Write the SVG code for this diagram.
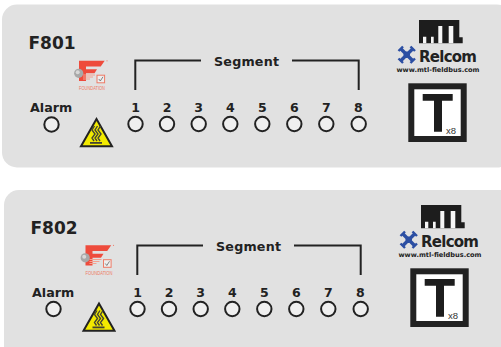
<svg xmlns="http://www.w3.org/2000/svg" xmlns:xlink="http://www.w3.org/1999/xlink" width="501" height="347" viewBox="0 0 501 347">
<style>
text{font-family:"DejaVu Sans","Liberation Sans",sans-serif;font-weight:bold;fill:#222}
.panel{fill:#e1e1e1}
.led{fill:#efefef;stroke:#222;stroke-width:2}
.n{font-size:12.5px;text-anchor:middle}
.lab{font-size:12.7px}
.id{font-size:17px}
.br{fill:none;stroke:#222;stroke-width:2}
.rel{font-size:15px}
.www{font-size:6.6px}
.x8{font-family:"Liberation Sans",sans-serif;font-weight:normal;font-size:9.5px;fill:#333}
.fnd{font-family:"Liberation Sans",sans-serif;font-weight:normal;font-size:4.6px;fill:#ee7a66}
</style>
<defs>
<g id="ff">
<path d="M79 60.7H104.7L100.7 66.5H86V69.3H97L94.5 73.3H86V81H79Z" fill="#ee4b3c"/>
<path d="M83 75H95M83 77H93M83 79H90" stroke="#f4a090" fill="none"/>
<circle cx="78.7" cy="73.3" r="4.6" fill="#a8a8a8"/>
<circle cx="77.7" cy="72.3" r="2" fill="#d8d8d8"/>
<rect x="97" y="75.2" width="7.6" height="7.6" fill="#eee" stroke="#ee7a66"/>
<path d="M98.8 79L100.3 81L103 76.8" fill="none" stroke="#666" stroke-width=".8"/>
<circle cx="107" cy="60.8" r=".6" fill="#ee7a66"/>
</g>
<g id="warn">
<path d="M96.5 119L81 146.3H112Z" fill="#f2ea00" stroke="#222" stroke-width="2"/>
<path d="M94.5 126L92 130L95 134L92 138L94 141M97.5 126L95 130L98 134L95 138L97 141M100.5 126L98 130L101 134L98 138L100 141" fill="none" stroke="#443" stroke-width="1.4"/>
<rect x="90" y="142" width="12" height="1.8" fill="#443"/>
</g>
<g id="brand">
<path d="M419 20H459.3V37.3H462.7V43.3H419Z" fill="#1d1d1d"/>
<path d="M423 36.7H426.3V43.3H423ZM431 36.7H433.7V43.3H431ZM438.3 26H442.3V43.3H438.3ZM448.7 26H453.3V43.3H448.7Z" fill="#f6f6f6"/>
<g stroke="#2c4fa3" fill="none">
<path d="M400.5 48.5L413 61M413 48.5L400.5 61" stroke-width="3.4"/>
<path d="M398.5 51L403 46.5M410.5 46.5L415 51M398.5 58.5L403 63M410.5 63L415 58.5" stroke-width="2.4"/>
<path d="M403.5 54.7H410M406.7 51.5V58" stroke-width="2"/>
</g>
<text class="rel" x="419" y="62" textLength="58">Relcom</text>
<text class="www" x="396.5" y="71.7" textLength="83" lengthAdjust="spacingAndGlyphs">www.mtl-fieldbus.com</text>
<rect x="411.3" y="86.3" width="52.4" height="52.7" fill="#fff" stroke="#222" stroke-width="6"/>
<path d="M422.7 94H452.7V100.7H442V131.7H434V100.7H422.7Z" fill="#1d1d1d"/>
<text class="x8" x="446" y="133.5">x8</text>
</g>
</defs>
<g id="panel-f801">
<rect class="panel" x="2" y="4.5" width="510" height="163" rx="15"/>
<text class="id" x="28.5" y="49">F801</text>
<use href="#ff" xlink:href="#ff"/>
<text class="fnd" x="79" y="90.3" textLength="26" lengthAdjust="spacingAndGlyphs">FOUNDATION</text>
<text class="lab" x="30" y="112">Alarm</text>
<circle class="led" cx="51.5" cy="124.5" r="7.2"/>
<use href="#warn" xlink:href="#warn"/>
<g id="bracket-f801"><path class="br" d="M135.3 90V60.5H201M292 60.5H358.7V90"/></g>
<text class="lab" x="214" y="66" textLength="65">Segment</text>
<g id="leds-f801">
<circle class="led" cx="135.5" cy="124" r="7.2"/><circle class="led" cx="167" cy="124" r="7.2"/><circle class="led" cx="198.7" cy="124" r="7.2"/><circle class="led" cx="230.3" cy="124" r="7.2"/><circle class="led" cx="262.3" cy="124" r="7.2"/><circle class="led" cx="294.3" cy="124" r="7.2"/><circle class="led" cx="326.3" cy="124" r="7.2"/><circle class="led" cx="358.7" cy="124" r="7.2"/>
</g>
<g id="nums-f801">
<text class="n" x="135.5" y="112">1</text><text class="n" x="167" y="112">2</text><text class="n" x="198.7" y="112">3</text><text class="n" x="230.3" y="112">4</text><text class="n" x="262.3" y="112">5</text><text class="n" x="294.3" y="112">6</text><text class="n" x="326.3" y="112">7</text><text class="n" x="358.3" y="112">8</text>
</g>
<use href="#brand" xlink:href="#brand"/>
</g>
<g id="panel-f802">
<rect class="panel" x="4" y="190" width="510" height="190" rx="15"/>
<text class="id" x="30.5" y="234">F802</text>
<use href="#ff" xlink:href="#ff" transform="translate(6.5 184.5)"/>
<text class="fnd" x="85.5" y="274.8" textLength="27" lengthAdjust="spacingAndGlyphs">FOUNDATION</text>
<text class="lab" x="32" y="297">Alarm</text>
<circle class="led" cx="53.5" cy="309" r="7.2"/>
<use href="#warn" xlink:href="#warn" transform="translate(2.5 184.5)"/>
<g id="bracket-f802"><path class="br" d="M137.3 275V245.5H203M294 245.5H360.7V275"/></g>
<text class="lab" x="216" y="251" textLength="65">Segment</text>
<g id="leds-f802">
<circle class="led" cx="137.5" cy="309" r="7.2"/><circle class="led" cx="169" cy="309" r="7.2"/><circle class="led" cx="200.7" cy="309" r="7.2"/><circle class="led" cx="232.3" cy="309" r="7.2"/><circle class="led" cx="264.3" cy="309" r="7.2"/><circle class="led" cx="296.3" cy="309" r="7.2"/><circle class="led" cx="328.3" cy="309" r="7.2"/><circle class="led" cx="360.7" cy="309" r="7.2"/>
</g>
<g id="nums-f802">
<text class="n" x="137.5" y="297">1</text><text class="n" x="169" y="297">2</text><text class="n" x="200.7" y="297">3</text><text class="n" x="232.3" y="297">4</text><text class="n" x="264.3" y="297">5</text><text class="n" x="296.3" y="297">6</text><text class="n" x="328.3" y="297">7</text><text class="n" x="360.3" y="297">8</text>
</g>
<use href="#brand" xlink:href="#brand" transform="translate(2 185)"/>
</g>
</svg>
